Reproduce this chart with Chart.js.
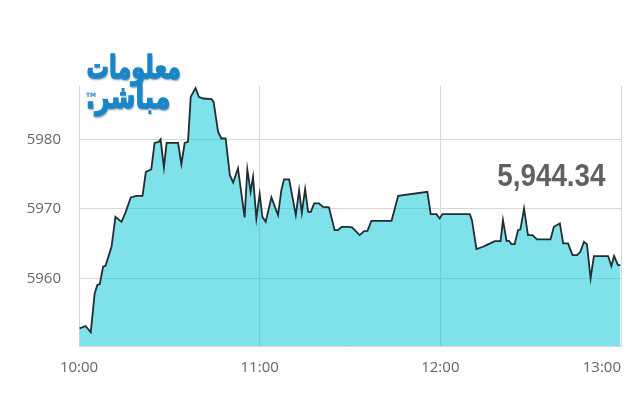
<!DOCTYPE html>
<html>
<head>
<meta charset="utf-8">
<script src="https://cdn.jsdelivr.net/npm/chart.js@4/dist/chart.umd.min.js"></script>
<style>
  html, body { margin: 0; padding: 0; background: #fff; }
  #wrap { position: relative; width: 640px; height: 400px; overflow: hidden; }
  canvas { position: absolute; left: 0; top: 0; }
  .logo { position: absolute; font-family: "DejaVu Sans", sans-serif; font-weight: bold; color: #1a86c8;
          -webkit-text-stroke: 1.4px #1a86c8;
          text-shadow: 1px 2px 2px rgba(0,40,80,0.45); direction: rtl; white-space: nowrap; line-height: 1;
          transform-origin: right center; }
  #l1 { right: 459px; top: 51px; font-size: 32px; transform: scaleX(0.7); }
  #l2 { right: 470px; top: 81px; font-size: 32px; transform: scaleX(0.78); }
  #tm { position: absolute; left: 86px; top: 91px; font: bold 6px "DejaVu Sans", sans-serif; color: #1a86c8; }
  #last { position: absolute; right: 34px; top: 157px; font: bold 32px "Liberation Sans", Arial, sans-serif;
          color: #616161; transform: scaleX(0.87); transform-origin: right center; white-space: nowrap; }
</style>
</head>
<body>
<div id="wrap">
  <canvas id="c" width="640" height="400"></canvas>
  <div class="logo" id="l1">معلومات</div>
  <div class="logo" id="l2">مباشر.</div>
  <div id="tm">TM</div>
  <div id="last">5,944.34</div>
</div>
<script>
// minutes after 10:00
const minutes = [0.2,2.2,3.9,5.2,6.1,6.9,8.0,8.8,10.8,12.1,14.1,15.4,17.2,19.1,21.1,22.2,24.0,25.1,26.5,27.1,28.2,29.1,32.9,34.0,35.1,36.2,37.1,38.7,39.8,41.2,44.0,
  44.7,46.2,47.3,48.7,50.1,51.2,52.8,55.0,55.9,57.0,57.8,58.9,60.0,60.9,62.0,63.9,66.1,67.2,68.1,69.8,72.0,73.1,74.0,75.1,76.1,77.0,78.1,79.7,81.0,83.0,84.9,86.0,87.2,89.4,
  90.7,93.2,94.7,95.8,97.1,103.8,106.0,115.7,116.8,118.7,119.8,120.7,129.8,130.5,132.0,134.2,
  135.3,138.1,140.0,140.8,142.0,142.8,143.6,144.7,145.8,146.6,147.8,149.1,150.6,152.1,156.6,157.7,159.7,160.8,162.4,163.9,165.4,166.5,167.7,168.7,169.9,171.0,175.7,176.8,177.7,179.0,179.8];
const values = [5952.81,5953.14,5952.23,5957.84,5959.04,5959.18,5961.67,5961.81,5964.55,5968.86,5968.14,5969.44,5971.65,5971.88,5971.88,5975.34,5975.68,5979.51,5979.65,5980.0,5975.97,5979.51,5979.51,5976.45,5979.51,5979.65,5986.13,5987.4,5986.13,5985.90,5985.80,
  5985.41,5981.09,5980.14,5980.14,5974.86,5973.81,5975.83,5968.78,5975.68,5972.46,5974.62,5968.63,5972.13,5968.86,5968.14,5971.65,5969.11,5972.71,5974.24,5974.24,5969.11,5972.71,5969.44,5972.85,5969.58,5969.58,5970.79,5970.79,5970.30,5970.22,5966.95,5966.95,5967.42,5967.42,
  5967.34,5966.23,5966.81,5966.85,5968.29,5968.29,5971.88,5972.46,5969.25,5969.25,5968.63,5969.25,5969.25,5968.39,5964.22,5964.55,
  5964.79,5965.37,5965.37,5968.39,5965.41,5965.41,5964.94,5964.94,5966.95,5967.05,5970.07,5966.23,5966.23,5965.61,5965.61,5967.42,5967.91,5965.04,5965.04,5963.35,5963.35,5963.83,5965.27,5964.89,5960.0,5963.21,5963.21,5961.77,5963.21,5961.91,5961.91];
const xTickMinutes = [0, 60, 120, 180];
const xTickLabels = ["10:00", "11:00", "12:00", "13:00"];
const yTickValues = [5960, 5970, 5980];

const points = minutes.map((m, i) => ({ x: m, y: values[i] }));

const lastLabelRight = {
  id: 'lastLabelRight',
  beforeDraw(chart) {
    const s = chart.scales.x;
    const items = s.getLabelItems(chart.chartArea);
    if (items && items.length) {
      const it = items[items.length - 1];
      it.options.textAlign = 'right';
      it.options.translation[0] = chart.chartArea.right;
    }
  }
};

new Chart(document.getElementById('c'), {
  type: 'line',
  data: {
    datasets: [{
      data: points,
      borderColor: '#222c32',
      borderWidth: 1.8,
      backgroundColor: 'rgba(0,196,212,0.5)',
      fill: 'start',
      pointRadius: 0,
      tension: 0
    }]
  },
  options: {
    responsive: false,
    animation: false,
    events: [],
    layout: { padding: { top: 86, right: 19, left: 0, bottom: 0 } },
    plugins: { legend: { display: false }, tooltip: { enabled: false } },
    scales: {
      x: {
        type: 'linear',
        min: 0, max: 180,
        afterBuildTicks: s => { s.ticks = xTickMinutes.map(v => ({ value: v })); },
        afterFit: s => { s.height = 54; s.paddingLeft = 0; s.paddingRight = 0; },
        ticks: {
          callback: v => xTickLabels[xTickMinutes.indexOf(v)],
          color: '#666',
          font: { family: '"Open Sans", sans-serif', size: 15 },
          padding: 13,
          maxRotation: 0, autoSkip: false
        },
        grid: { color: '#d6d6d6', lineWidth: 1, drawTicks: false },
        border: { display: true, color: '#d6d6d6' }
      },
      y: {
        min: 5950.26, max: 5987.7,
        afterBuildTicks: s => { s.ticks = yTickValues.map(v => ({ value: v })); },
        afterFit: s => { s.width = 79; s.paddingTop = 0; s.paddingBottom = 0; },
        ticks: {
          callback: v => String(v),
          color: '#666',
          font: { family: '"Open Sans", sans-serif', size: 15 },
          padding: 18
        },
        grid: { color: '#d6d6d6', lineWidth: 1, drawTicks: false },
        border: { display: false }
      }
    }
  },
  plugins: [lastLabelRight]
});
</script>
</body>
</html>
